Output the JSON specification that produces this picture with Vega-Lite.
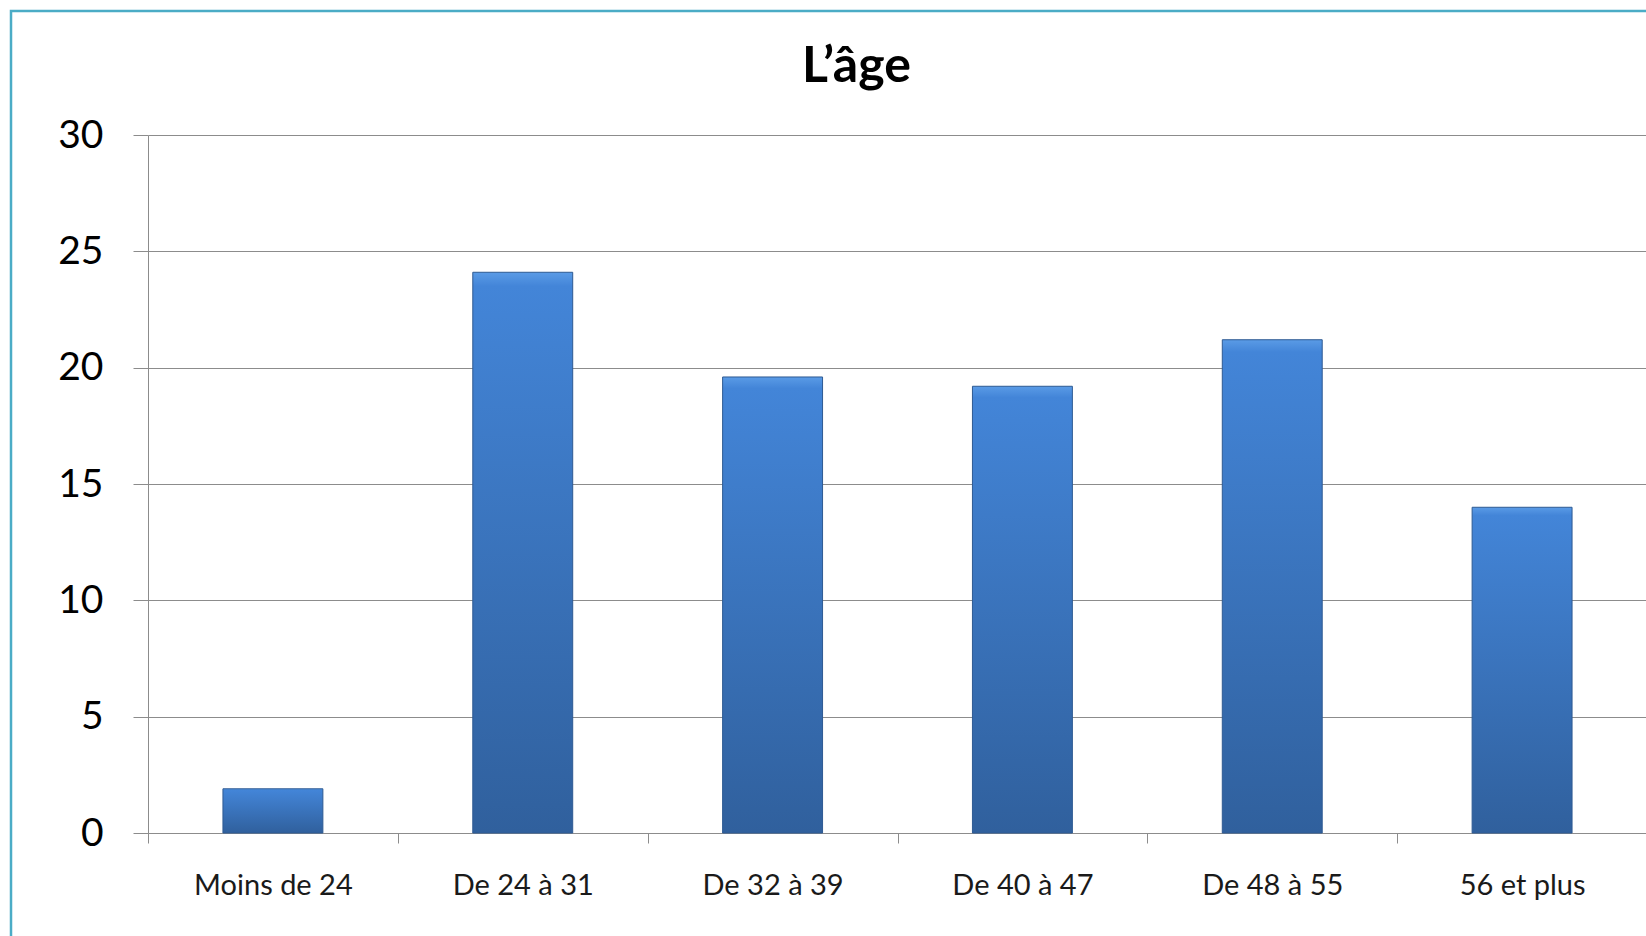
{
  "$schema": "https://vega.github.io/schema/vega-lite/v6.json",
  "autosize": {"type": "none"},
  "padding": {"left": 148, "top": 135, "right": 0, "bottom": 103},
  "width": 1499,
  "height": 698,
  "background": "white",
  "title": {
    "text": "L’âge",
    "font": "Lato",
    "fontSize": 50,
    "fontWeight": "bold",
    "color": "#000000",
    "anchor": "middle",
    "dx": -41,
    "dy": 122,
    "baseline": "alphabetic",
    "offset": 0
  },
  "data": {
    "values": [
      {"age": "Moins de 24", "pct": 1.9},
      {"age": "De 24 à 31", "pct": 24.1},
      {"age": "De 32 à 39", "pct": 19.6},
      {"age": "De 40 à 47", "pct": 19.2},
      {"age": "De 48 à 55", "pct": 21.2},
      {"age": "56 et plus", "pct": 14.0}
    ]
  },
  "encoding": {
    "x": {
      "field": "age",
      "type": "nominal",
      "sort": null,
      "scale": {"paddingInner": 0, "paddingOuter": 0},
      "axis": {
        "title": null,
        "labelAngle": 0,
        "labelFont": "Lato",
        "labelFontSize": 29,
        "labelColor": "#1a1a1a",
        "labelPadding": 28,
        "tickBand": "extent",
        "tickSize": 10,
        "tickColor": "#8c8c8c",
        "domainColor": "#8c8c8c",
        "grid": false
      }
    },
    "y": {
      "field": "pct",
      "type": "quantitative",
      "scale": {"domain": [0, 30], "nice": false},
      "axis": {
        "title": null,
        "values": [0, 5, 10, 15, 20, 25, 30],
        "labelFont": "Lato",
        "labelFontSize": 39,
        "labelColor": "#000000",
        "labelPadding": 30,
        "tickSize": 15,
        "tickColor": "#8c8c8c",
        "domainColor": "#8c8c8c",
        "grid": true,
        "gridColor": "#8c8c8c",
        "gridOpacity": 1
      }
    }
  },
  "layer": [
    {
      "mark": {
        "type": "bar",
        "width": {"band": 0.4},
        "color": {
          "gradient": "linear",
          "x1": 0, "y1": 0, "x2": 0, "y2": 1,
          "stops": [
            {"offset": 0, "color": "#5A9BE6"},
            {"offset": 0.025, "color": "#4385D8"},
            {"offset": 1, "color": "#30609D"}
          ]
        },
        "stroke": "#2E5A92",
        "strokeWidth": 1
      }
    },
    {
      "mark": {"type": "text", "text": ""},
      "encoding": {
        "color": {
          "datum": "cadre",
          "legend": {
            "orient": "none",
            "legendX": -137,
            "legendY": -124,
            "padding": 900,
            "strokeColor": "#4BACC6",
            "cornerRadius": 0,
            "title": null,
            "symbolOpacity": 0,
            "symbolSize": 0,
            "labelOpacity": 0,
            "labelFontSize": 1
          }
        }
      }
    }
  ],
  "config": {
    "view": {"stroke": null},
    "legend": {"strokeWidth": 2.5}
  }
}
